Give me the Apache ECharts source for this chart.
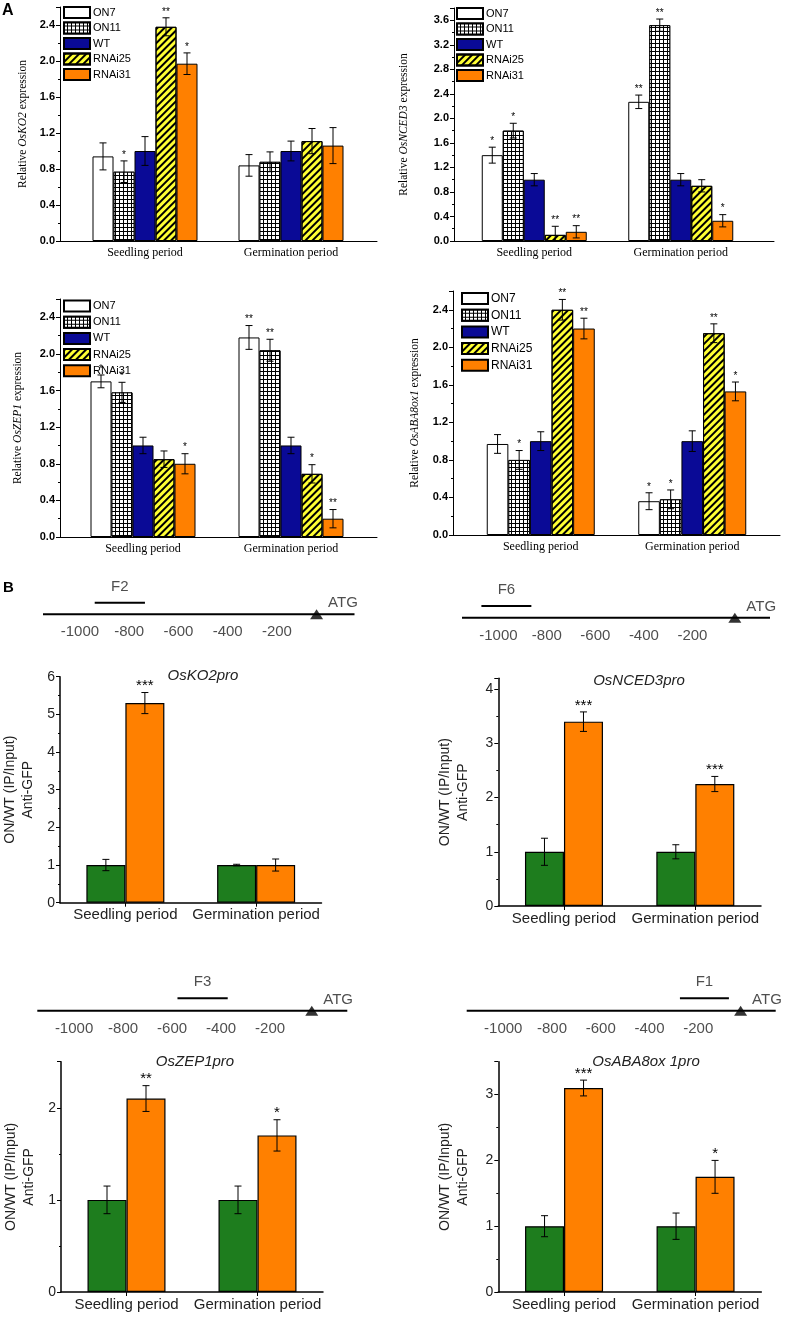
<!DOCTYPE html>
<html><head><meta charset="utf-8">
<script src="https://cdn.jsdelivr.net/npm/echarts@6/dist/echarts.min.js"></script>
<style>html,body{margin:0;padding:0;background:#fff}#c{width:788px;height:1322px}</style>
</head><body><div id="c"></div>
<script>
// ---------------- DATA ----------------
const periods = ['Seedling period', 'Germination period'];
const genotypes = ['ON7', 'ON11', 'WT', 'RNAi25', 'RNAi31'];

// Panel A: [genotype][period]
const ko2Mean = [[0.94, 0.84], [0.77, 0.88], [1.00, 1.00], [2.38, 1.11], [1.97, 1.06]];
const ko2Err  = [[0.15, 0.12], [0.12, 0.11], [0.16, 0.11], [0.10, 0.14], [0.12, 0.20]];
const ko2Sig  = [['', ''], ['*', ''], ['', ''], ['**', ''], ['*', '']];

const nced3Mean = [[1.40, 2.27], [1.80, 3.52], [1.00, 1.00], [0.10, 0.90], [0.15, 0.33]];
const nced3Err  = [[0.13, 0.11], [0.12, 0.10], [0.10, 0.10], [0.14, 0.10], [0.10, 0.10]];
const nced3Sig  = [['*', '**'], ['*', '**'], ['', ''], ['**', ''], ['**', '*']];

const zep1Mean = [[1.70, 2.18], [1.58, 2.04], [1.00, 1.00], [0.85, 0.69], [0.80, 0.20]];
const zep1Err  = [[0.07, 0.13], [0.11, 0.12], [0.09, 0.09], [0.09, 0.10], [0.11, 0.10]];
const zep1Sig  = [['*', '**'], ['*', '**'], ['', ''], ['', '*'], ['*', '**']];

const aba8Mean = [[0.97, 0.36], [0.80, 0.38], [1.00, 1.00], [2.40, 2.15], [2.20, 1.53]];
const aba8Err  = [[0.10, 0.09], [0.10, 0.10], [0.10, 0.11], [0.11, 0.10], [0.11, 0.10]];
const aba8Sig  = [['', '*'], ['*', '*'], ['', ''], ['**', '**'], ['**', '*']];

// Panel B ChIP: [WT, ON][period]
const chipGroups = ['WT', 'ON'];
const ko2ProMean = [[1.00, 1.00], [5.30, 1.00]];
const ko2ProErr  = [[0.15, 0.02], [0.28, 0.16]];
const ko2ProSig  = [['', ''], ['***', '']];

const nced3ProMean = [[1.00, 1.00], [3.40, 2.25]];
const nced3ProErr  = [[0.25, 0.13], [0.18, 0.14]];
const nced3ProSig  = [['', ''], ['***', '***']];

const zep1ProMean = [[1.00, 1.00], [2.10, 1.70]];
const zep1ProErr  = [[0.15, 0.15], [0.14, 0.17]];
const zep1ProSig  = [['', ''], ['**', '*']];

const aba8ProMean = [[1.00, 1.00], [3.10, 1.75]];
const aba8ProErr  = [[0.16, 0.20], [0.12, 0.25]];
const aba8ProSig  = [['', ''], ['***', '*']];

// Promoter maps
const promoterTicks = [-1000, -800, -600, -400, -200];
const fragLabels = ['F2', 'F6', 'F3', 'F1'];
const fragStart = [-940, -1070, -578, -275];
const fragEnd = [-736, -864, -373, -74];
const atgPos = [-39, -25, -30, -26];
const promoterStart = -1150;
const promoterEnd = [115, 120, 115, 118];

// ---------------- STYLES / LAYOUT ----------------
const SANS = 'Liberation Sans, Arial, sans-serif';
const SERIF = 'Liberation Serif, Times New Roman, serif';
const barStyles = [
  { color: '#ffffff', borderColor: '#000', borderWidth: 1 },
  { color: '#ffffff', borderColor: '#000', borderWidth: 1,
    decal: { symbol: 'rect', symbolSize: 1, color: '#ffffff', backgroundColor: '#000000', dashArrayX: [3, 1], dashArrayY: [3, 1] } },
  { color: '#0a0a96', borderColor: '#000', borderWidth: 1 },
  { color: '#ffff33', borderColor: '#000', borderWidth: 1,
    decal: { symbol: 'rect', symbolSize: 1, color: '#000000', dashArrayX: [1, 0], dashArrayY: [1.6, 3], rotation: -Math.PI / 4 } },
  { color: '#ff8000', borderColor: '#000', borderWidth: 1 }
];
const chipStyles = [
  { color: '#1e7d1e', borderColor: '#000', borderWidth: 1.2 },
  { color: '#ff8000', borderColor: '#000', borderWidth: 1.2 }
];

const option = {
  animation: false, backgroundColor: '#fff',
  grid: [], xAxis: [], yAxis: [], series: [], legend: [], graphic: []
};
function addGrid(g) { option.grid.push(Object.assign({ containLabel: false }, g)); return option.grid.length - 1; }
function addX(a) { option.xAxis.push(a); return option.xAxis.length - 1; }
function addY(a) { option.yAxis.push(a); return option.yAxis.length - 1; }

function errorSeries(xi, yi, mean, err, sig, bw, cap, starSize, starGap) {
  const n = mean.length;
  const items = [];
  for (let i = 0; i < n; i++) for (let c = 0; c < mean[i].length; c++) items.push([c, i, mean[i][c], err[i][c]]);
  return {
    type: 'custom', xAxisIndex: xi, yAxisIndex: yi, silent: true, z: 5,
    encode: { x: 0, y: 2 }, data: items,
    renderItem: function (params, api) {
      const c = api.value(0), i = api.value(1), m = api.value(2), e = api.value(3);
      const p = api.coord([c, m]);
      const x = p[0] + (i - (n - 1) / 2) * bw;
      const yHi = api.coord([c, m + e])[1];
      const yLo = api.coord([c, Math.max(0, m - e)])[1];
      const st = { stroke: '#000', lineWidth: 1 };
      const ch = [
        { type: 'line', shape: { x1: x, y1: yHi, x2: x, y2: yLo }, style: st },
        { type: 'line', shape: { x1: x - cap, y1: yHi, x2: x + cap, y2: yHi }, style: st },
        { type: 'line', shape: { x1: x - cap, y1: yLo, x2: x + cap, y2: yLo }, style: st }
      ];
      const s = sig[i][c];
      if (s) ch.push({ type: 'text', x: x, y: yHi - starGap,
        style: { text: s, fill: '#000', align: 'center', verticalAlign: 'bottom', font: starSize + 'px ' + SANS } });
      return { type: 'group', children: ch };
    }
  };
}

function buildA(cfg) {
  const gF = addGrid({ left: cfg.frameLeft, width: cfg.frameWidth, top: cfg.top, height: cfg.height });
  addX({ gridIndex: gF, type: 'value', min: 0, max: 1,
    axisLine: { show: true, lineStyle: { color: '#000', width: 1 } }, axisTick: { show: false },
    axisLabel: { show: false }, splitLine: { show: false } });
  addY({ gridIndex: gF, type: 'value', min: 0, max: cfg.max, interval: 0.4,
    axisLine: { show: true, lineStyle: { color: '#000', width: 1 } },
    axisTick: { show: true, length: 4, lineStyle: { color: '#000' } },
    minorTick: { show: true, splitNumber: 2, length: 2, lineStyle: { color: '#000' } },
    splitLine: { show: false },
    axisLabel: { color: '#000', fontWeight: 'bold', fontSize: 11, fontFamily: SANS, margin: 5,
      formatter: v => { const r = Math.round(v * 10); return (Math.abs(v * 10 - r) < 1e-6 && r % 4 === 0) ? v.toFixed(1) : ''; } },
    name: '{n|Relative }{i|' + cfg.gene + '}{n| expression}', nameLocation: 'middle', nameGap: cfg.nameGap,
    nameTextStyle: { rich: { n: { fontFamily: SERIF, fontSize: 11.5, color: '#000' }, i: { fontFamily: SERIF, fontSize: 11.5, fontStyle: 'italic', color: '#000' } } } });
  const gB = addGrid({ left: cfg.barLeft, width: cfg.barWidthTotal, top: cfg.top, height: cfg.height });
  const xB = addX({ gridIndex: gB, type: 'category', data: periods,
    axisLine: { show: false }, axisTick: { show: false }, splitLine: { show: false },
    axisLabel: { interval: 0, color: '#000', fontFamily: SERIF, fontSize: 12, margin: 6 } });
  const yB = addY({ gridIndex: gB, type: 'value', min: 0, max: cfg.max, show: false, splitLine: { show: false } });
  genotypes.forEach((g, i) => {
    option.series.push({ type: 'bar', name: g, xAxisIndex: xB, yAxisIndex: yB, data: cfg.mean[i],
      barWidth: cfg.bw, barGap: '0%', silent: true, itemStyle: barStyles[i] });
  });
  option.series.push(errorSeries(xB, yB, cfg.mean, cfg.err, cfg.sig, cfg.bw, 3.5, 10, 1));
  option.legend.push({ data: genotypes, left: cfg.legLeft, top: cfg.legTop, orient: 'vertical', padding: 0,
    itemWidth: 26, itemHeight: 11, itemGap: cfg.legGap, icon: 'rect', selectedMode: false,
    textStyle: { color: '#000', fontSize: cfg.legFont, fontFamily: SANS, padding: [0, 0, 0, -2] } });
}

function buildB(cfg) {
  const g = addGrid({ left: cfg.left, width: cfg.width, top: cfg.top, height: cfg.height });
  const xi = addX({ gridIndex: g, type: 'category', data: periods,
    axisLine: { show: true, lineStyle: { color: '#000', width: 1.5 } },
    axisTick: { show: true, alignWithLabel: true, length: 4, lineStyle: { color: '#000' } },
    axisLabel: { interval: 0, color: '#222', fontFamily: SANS, fontSize: 15, margin: 5 }, splitLine: { show: false } });
  const yi = addY({ gridIndex: g, type: 'value', min: 0, max: cfg.max, interval: 1,
    axisLine: { show: true, lineStyle: { color: '#000', width: 1.5 } },
    axisTick: { show: true, length: 4, lineStyle: { color: '#000' } },
    minorTick: { show: true, splitNumber: 2, length: 2, lineStyle: { color: '#000' } },
    splitLine: { show: false },
    axisLabel: { color: '#222', fontSize: 14, fontFamily: SANS, margin: 5,
      formatter: v => (Math.abs(v - Math.round(v)) < 1e-6 ? String(Math.round(v)) : '') },
    name: 'ON/WT (IP/Input)\nAnti-GFP', nameLocation: 'middle', nameGap: cfg.nameGap,
    nameTextStyle: { color: '#222', fontFamily: SANS, fontSize: 14, lineHeight: 18 } });
  chipGroups.forEach((gname, i) => {
    option.series.push({ type: 'bar', name: 'ChIP ' + gname, xAxisIndex: xi, yAxisIndex: yi, data: cfg.mean[i],
      barWidth: 39, barGap: '0%', silent: true, itemStyle: chipStyles[i] });
  });
  option.series.push(errorSeries(xi, yi, cfg.mean, cfg.err, cfg.sig, 39, 3.5, 15, -1));
  option.graphic.push({ type: 'text', x: cfg.titleX, y: cfg.titleY, silent: true,
    style: { text: cfg.title, fill: '#222', align: 'center', verticalAlign: 'middle', font: 'italic 15px ' + SANS } });
}

function buildPromoter(k, cfg) {
  const g = addGrid({ left: cfg.left, width: cfg.width, top: cfg.lineY - 2 * cfg.unit, height: 3 * cfg.unit });
  const xi = addX({ gridIndex: g, type: 'value', min: promoterStart, max: promoterEnd[k], show: false, splitLine: { show: false } });
  const yi = addY({ gridIndex: g, type: 'value', min: -1, max: 2, show: false, splitLine: { show: false } });
  const base = { xAxisIndex: xi, yAxisIndex: yi, silent: true };
  option.series.push(Object.assign({ type: 'line', symbol: 'none', data: [[promoterStart, 0], [promoterEnd[k], 0]],
    lineStyle: { color: '#000', width: 2 } }, base));
  option.series.push(Object.assign({ type: 'line', symbol: 'none', data: [[fragStart[k], 1], [fragEnd[k], 1]],
    lineStyle: { color: '#000', width: 2 } }, base));
  option.series.push(Object.assign({ type: 'scatter', symbolSize: 1, itemStyle: { color: 'rgba(0,0,0,0)' },
    data: [[(fragStart[k] + fragEnd[k]) / 2, 1]],
    label: { show: true, position: 'top', distance: 8, formatter: fragLabels[k], color: '#222', fontSize: 15, fontFamily: SANS } }, base));
  option.series.push(Object.assign({ type: 'scatter', symbolSize: 1, itemStyle: { color: 'rgba(0,0,0,0)' },
    data: promoterTicks.map(v => [v, 0]),
    label: { show: true, position: 'bottom', distance: 10, formatter: p => String(p.value[0]), color: '#222', fontSize: 15, fontFamily: SANS } }, base));
  option.series.push(Object.assign({ type: 'scatter', symbol: 'triangle', symbolSize: [13, 10], itemStyle: { color: '#000' },
    data: [[atgPos[k], 0]], z: 4 }, base));
  option.series.push(Object.assign({ type: 'scatter', symbolSize: 1, itemStyle: { color: 'rgba(0,0,0,0)' },
    data: [[atgPos[k], 0]],
    label: { show: true, position: 'right', distance: 11, offset: [0, -11], formatter: 'ATG', color: '#222', fontSize: 15, fontFamily: SANS } }, base));
}

// ---------------- BUILD ----------------
buildA({ gene: 'OsKO2', mean: ko2Mean, err: ko2Err, sig: ko2Sig, max: 2.6,
  frameLeft: 60, frameWidth: 317, barLeft: 72, barWidthTotal: 292, top: 7, height: 234, bw: 21, nameGap: 31,
  legLeft: 63, legTop: 6, legGap: 2.5, legFont: 11 });
buildA({ gene: 'OsNCED3', mean: nced3Mean, err: nced3Err, sig: nced3Sig, max: 3.8,
  frameLeft: 454, frameWidth: 320, barLeft: 461, barWidthTotal: 293, top: 8, height: 233, bw: 21, nameGap: 44,
  legLeft: 456, legTop: 7, legGap: 2.5, legFont: 11 });
buildA({ gene: 'OsZEP1', mean: zep1Mean, err: zep1Err, sig: zep1Sig, max: 2.6,
  frameLeft: 60, frameWidth: 317, barLeft: 69, barWidthTotal: 296, top: 299, height: 238, bw: 21, nameGap: 36,
  legLeft: 63, legTop: 299.5, legGap: 3.2, legFont: 11 });
buildA({ gene: 'OsABA8ox1', mean: aba8Mean, err: aba8Err, sig: aba8Sig, max: 2.6,
  frameLeft: 453, frameWidth: 327, barLeft: 465, barWidthTotal: 303, top: 291, height: 244, bw: 21.6, nameGap: 32,
  legLeft: 461, legTop: 292, legGap: 3.7, legFont: 12 });

buildPromoter(0, { left: 43, width: 311.5, lineY: 614.3, unit: 11.6 });
buildPromoter(1, { left: 462, width: 308, lineY: 617.7, unit: 11.7 });
buildPromoter(2, { left: 37.3, width: 310, lineY: 1010.7, unit: 12.4 });
buildPromoter(3, { left: 466.7, width: 309, lineY: 1010.7, unit: 12.4 });

buildB({ title: 'OsKO2pro', titleX: 203, titleY: 676, mean: ko2ProMean, err: ko2ProErr, sig: ko2ProSig, max: 6,
  left: 60, width: 261.5, top: 676.7, height: 226, nameGap: 23 });
buildB({ title: 'OsNCED3pro', titleX: 639, titleY: 681, mean: nced3ProMean, err: nced3ProErr, sig: nced3ProSig, max: 4.2,
  left: 498.3, width: 262.7, top: 678.3, height: 227.7, nameGap: 26 });
buildB({ title: 'OsZEP1pro', titleX: 195, titleY: 1062, mean: zep1ProMean, err: zep1ProErr, sig: zep1ProSig, max: 2.5,
  left: 61, width: 262, top: 1061.7, height: 230.3, nameGap: 23 });
buildB({ title: 'OsABA8ox 1pro', titleX: 646, titleY: 1062, mean: aba8ProMean, err: aba8ProErr, sig: aba8ProSig, max: 3.5,
  left: 498.3, width: 263, top: 1061.7, height: 230.3, nameGap: 26 });

option.graphic.push({ type: 'text', x: 2, y: 3, silent: true, style: { text: 'A', fill: '#000', font: 'bold 16px ' + SANS } });
option.graphic.push({ type: 'text', x: 3, y: 580, silent: true, style: { text: 'B', fill: '#000', font: 'bold 15px ' + SANS } });

const chart = echarts.init(document.getElementById('c'), null, { renderer: 'canvas', width: 788, height: 1322 });
chart.setOption(option);
</script></body></html>
